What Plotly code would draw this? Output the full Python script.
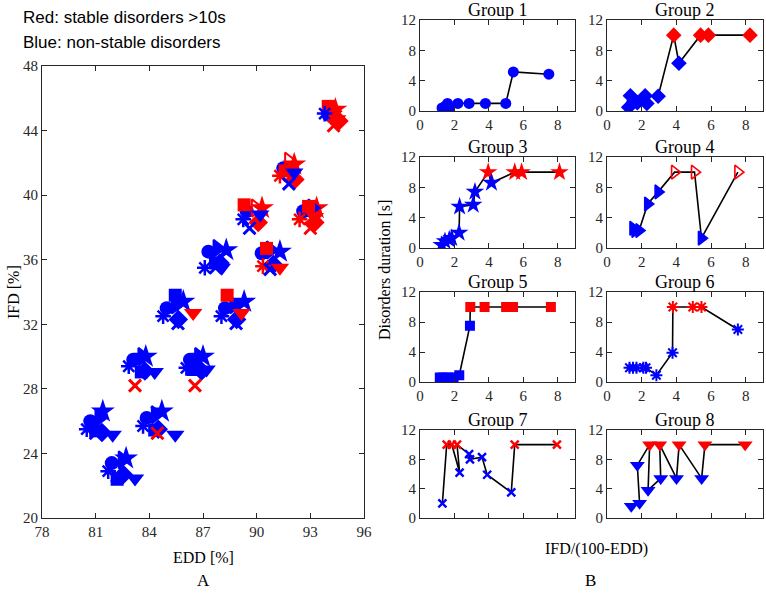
import plotly.graph_objects as go

W, H = 766, 594
RED = '#ff0000'
BLUE = '#0000ff'
AX = '#262626'
SERIF = 'Liberation Serif'

# ---------------- Left panel (A): EDD vs IFD, one point per cluster per group ----------------
g1_edd = [81.9, 80.7, 83.85, 83.1, 86.27, 84.97, 88.23, 87.3, 90.28, 89.44, 92.6, 91.49, 94.0]
g1_ifd = [23.4, 26.0, 26.2, 29.8, 29.8, 33.0, 33.0, 36.5, 36.4, 39.0, 39.0, 41.67, 45.0]
g1_stable = [0, 0, 0, 0, 0, 0, 0, 0, 0, 0, 0, 0, 0]

g2_edd = [82.55, 81.35, 84.5, 83.75, 86.92, 85.62, 88.88, 87.95, 90.93, 90.09, 93.25, 92.14, 94.6]
g2_ifd = [22.7, 25.3, 25.5, 29.1, 29.1, 32.3, 32.3, 35.8, 35.7, 38.3, 38.3, 40.97, 44.6]
g2_stable = [0, 0, 0, 0, 0, 0, 0, 0, 0, 1, 1, 1, 1]

g3_edd = [82.7, 81.4, 84.7, 83.8, 87.0, 85.9, 89.3, 88.3, 91.3, 90.3, 93.35, 92.1, 94.4]
g3_ifd = [23.7, 26.6, 26.6, 30.0, 30.0, 33.4, 33.4, 36.6, 36.5, 39.2, 39.2, 41.9, 45.3]
g3_stable = [0, 0, 0, 0, 0, 0, 0, 0, 0, 1, 1, 1, 1]

g4_edd = [82.5, 81.2, 84.35, 83.6, 86.77, 85.47, 88.73, 87.8, 90.78, 89.94, 93.1, 91.8, 94.3]
g4_ifd = [23.6, 26.2, 26.4, 30.0, 30.0, 33.2, 33.2, 36.7, 36.6, 39.2, 39.2, 42.1, 45.2]
g4_stable = [0, 0, 0, 0, 0, 0, 0, 0, 0, 1, 0, 1, 1]

g5_edd = [82.2, 81.0, 84.3, 83.55, 86.45, 85.45, 88.35, 87.7, 90.55, 89.3, 92.9, 91.6, 94.0]
g5_ifd = [22.4, 25.4, 25.45, 29.05, 29.2, 33.8, 33.8, 35.8, 36.7, 39.4, 39.3, 41.5, 45.5]
g5_stable = [0, 0, 0, 0, 0, 0, 1, 0, 1, 1, 1, 1, 1]

g6_edd = [81.7, 80.5, 83.65, 82.85, 86.07, 84.77, 88.03, 87.1, 90.35, 89.25, 92.4, 91.3, 93.8]
g6_ifd = [22.9, 25.5, 25.7, 29.4, 29.3, 32.5, 32.5, 35.5, 35.6, 38.5, 38.5, 41.2, 45.05]
g6_stable = [0, 0, 0, 0, 0, 0, 0, 0, 1, 0, 1, 1, 0]

g7_edd = [82.2, 81.0, 84.45, 83.2, 86.55, 85.6, 88.85, 87.7, 90.75, 89.6, 93.0, 91.8, 94.3]
g7_ifd = [22.6, 25.25, 25.25, 28.2, 28.2, 32.05, 32.05, 35.5, 35.4, 37.95, 37.95, 40.7, 44.3]
g7_stable = [0, 0, 1, 1, 1, 0, 0, 0, 0, 0, 1, 0, 1]

g8_edd = [83.2, 81.95, 85.45, 84.3, 87.2, 86.45, 89.15, 88.05, 91.3, 90.2, 93.25, 92.1, 94.5]
g8_ifd = [22.45, 25.15, 25.15, 29.05, 29.2, 32.7, 32.7, 35.5, 35.5, 38.8, 38.65, 41.4, 44.7]
g8_stable = [0, 0, 0, 0, 0, 1, 1, 0, 1, 0, 1, 0, 1]

# ---------------- Right panels (B): IFD/(100-EDD) vs disorder duration ----------------
g1_ratio = [1.28, 1.45, 1.6, 1.72, 2.2, 2.85, 3.8, 4.98, 5.42, 7.48]
g1_dur = [0.4, 0.6, 1.0, 0.45, 1.0, 1.0, 1.0, 1.0, 5.15, 4.85]

g2_ratio = [1.25, 1.35, 1.55, 1.75, 2.3, 2.2, 2.95, 3.85, 4.15, 5.4, 5.85, 8.25]
g2_dur = [0.5, 2.0, 1.3, 1.1, 1.0, 2.0, 1.95, 10, 6.3, 10, 10, 10]

g3_ratio = [1.26, 1.45, 1.7, 1.84, 2.27, 2.3, 3.09, 3.19, 3.96, 4.15, 5.5, 5.9, 8.1]
g3_dur = [0.4, 0.9, 1.1, 1.3, 2.0, 5.45, 5.7, 7.4, 10, 8.6, 10, 10, 10]

g4_ratio = [1.5, 1.62, 1.85, 2.35, 2.95, 3.9, 5.05, 5.45, 7.55]
g4_dur = [2.6, 2.3, 2.3, 5.8, 7.4, 10, 10, 1.3, 10]

g5_ratio = [1.15, 1.35, 1.65, 1.95, 2.28, 2.9, 2.92, 3.75, 5.0, 5.4, 7.6]
g5_dur = [0.6, 0.6, 0.6, 0.6, 0.9, 7.5, 10, 10, 10, 10, 10]

g6_ratio = [1.3, 1.5, 1.7, 2.1, 2.25, 2.85, 3.78, 3.8, 4.95, 5.45, 7.55]
g6_dur = [1.9, 1.9, 1.9, 1.9, 1.9, 0.9, 3.9, 10, 10, 10, 7.0]

g7_ratio = [1.3, 1.55, 1.85, 2.3, 2.15, 2.85, 2.9, 3.6, 3.9, 5.3, 5.5, 7.95]
g7_dur = [2.0, 10, 10, 6.2, 10, 8.7, 8.0, 8.3, 5.9, 3.5, 10, 10]

g8_ratio = [1.4, 1.88, 1.75, 2.46, 2.37, 3.1, 3.04, 4.01, 4.16, 5.46, 5.65, 7.97]
g8_dur = [1.6, 2.0, 7.2, 10, 3.8, 5.4, 10, 5.4, 10, 5.4, 10, 10]

group_names = ['Group 1', 'Group 2', 'Group 3', 'Group 4', 'Group 5', 'Group 6', 'Group 7', 'Group 8']
x_ticks_left = [78, 81, 84, 87, 90, 93, 96]
y_ticks_left = [20, 24, 28, 32, 36, 40, 44, 48]
x_ticks_right = [0, 2, 4, 6, 8]
y_ticks_right = [0, 4, 8, 12]
STABLE_LIMIT = 10

left_data = [(g1_edd, g1_ifd, g1_stable), (g2_edd, g2_ifd, g2_stable), (g3_edd, g3_ifd, g3_stable),
             (g4_edd, g4_ifd, g4_stable), (g5_edd, g5_ifd, g5_stable), (g6_edd, g6_ifd, g6_stable),
             (g7_edd, g7_ifd, g7_stable), (g8_edd, g8_ifd, g8_stable)]
right_data = [(g1_ratio, g1_dur), (g2_ratio, g2_dur), (g3_ratio, g3_dur), (g4_ratio, g4_dur),
              (g5_ratio, g5_dur), (g6_ratio, g6_dur), (g7_ratio, g7_dur), (g8_ratio, g8_dur)]

# symbol style per group: (filled symbol, open symbol for stable, left size, right size, line width)
styles = [
    ('circle', 'circle', 14, 11, 0),
    ('diamond', 'diamond', 15, 12, 0),
    ('star', 'star', 18, 14, 0),
    ('triangle-right', 'triangle-right-open', 15, 12, 2),
    ('square', 'square', 13, 10, 0),
    ('asterisk-open', 'asterisk-open', 13, 10, 2.5),
    ('x-thin-open', 'x-thin-open', 12, 8, 3),
    ('triangle-down', 'triangle-down', 16, 13, 0),
]

fig = go.Figure()

# left scatter
for (edd, ifd, st), (sym, osym, ls, rs, lw) in zip(left_data, styles):
    cols = [RED if s else BLUE for s in st]
    syms = [osym if s else sym for s in st]
    fig.add_trace(go.Scatter(
        x=edd, y=ifd, mode='markers', xaxis='x', yaxis='y', showlegend=False,
        marker=dict(symbol=syms, size=ls, color=cols,
                    line=dict(color=cols, width=lw if lw else 0))))

# right panels
for i, ((rx, ry), (sym, osym, ls, rs, lw)) in enumerate(zip(right_data, styles)):
    k = i + 2
    fig.add_trace(go.Scatter(x=rx, y=ry, mode='lines', xaxis=f'x{k}', yaxis=f'y{k}',
                             line=dict(color='black', width=1.6), showlegend=False))
    cols = [RED if v >= STABLE_LIMIT else BLUE for v in ry]
    syms = [osym if v >= STABLE_LIMIT else sym for v in ry]
    fig.add_trace(go.Scatter(
        x=rx, y=ry, mode='markers', xaxis=f'x{k}', yaxis=f'y{k}', showlegend=False,
        marker=dict(symbol=syms, size=rs, color=cols,
                    line=dict(color=cols, width=(lw * 0.8) if lw else 0))))

def ax_style(**kw):
    d = dict(showline=True, linecolor=AX, linewidth=1, mirror='ticks', ticks='inside',
             ticklen=5, tickcolor=AX, showgrid=False, zeroline=False, automargin=False,
             tickfont=dict(family=SERIF, size=15, color=AX))
    d.update(kw)
    return d

def px_x(a, b):
    return [a / W, b / W]

def px_y(top, bottom):
    return [1 - bottom / H, 1 - top / H]

layout = dict(
    width=W, height=H, margin=dict(l=0, r=0, t=0, b=0, autoexpand=False),
    paper_bgcolor='white', plot_bgcolor='white', showlegend=False,
    xaxis=ax_style(domain=px_x(42, 364), range=[78, 96], tickvals=x_ticks_left, anchor='y'),
    yaxis=ax_style(domain=px_y(66, 518), range=[20, 48], tickvals=y_ticks_left, anchor='x'),
)

cols_px = [(420, 575), (607, 763)]
rows_px = [(20, 111), (157, 248), (292, 382), (430, 518)]
annotations = []
for i in range(8):
    k = i + 2
    r, c = divmod(i, 2)
    xa, xb = cols_px[c]
    ya, yb = rows_px[r]
    layout[f'xaxis{k}'] = ax_style(domain=px_x(xa, xb), range=[0, 9], tickvals=x_ticks_right,
                                   showticklabels=(r < 3), anchor=f'y{k}')
    layout[f'yaxis{k}'] = ax_style(domain=px_y(ya, yb), range=[0, 12], tickvals=y_ticks_right,
                                   anchor=f'x{k}')
    annotations.append(dict(text=group_names[i], x=(xa + xb) / 2 / W, y=1 - (ya - 10) / H,
                            xref='paper', yref='paper', xanchor='center', yanchor='middle',
                            showarrow=False, font=dict(family=SERIF, size=18, color='black')))

def txt(t, x, y, size=16, family=SERIF, angle=0, xanchor='center', yanchor='middle'):
    return dict(text=t, x=x / W, y=1 - y / H, xref='paper', yref='paper', showarrow=False,
                xanchor=xanchor, yanchor=yanchor, textangle=angle,
                font=dict(family=family, size=size, color='black'))

annotations += [
    txt('Red: stable disorders &gt;10s', 21, 18, size=17, family='Liberation Sans', xanchor='left'),
    txt('Blue: non-stable disorders', 21, 42, size=17, family='Liberation Sans', xanchor='left'),
    txt('EDD [%]', 203, 557, size=16),
    txt('A', 203, 580, size=17),
    txt('IFD [%]', 13, 292, size=16, angle=-90),
    txt('Disorders duration [s]', 384, 270, size=16, angle=-90),
    txt('IFD/(100-EDD)', 596, 549, size=16),
    txt('B', 590, 580, size=17),
]
layout['annotations'] = annotations
fig.update_layout(**layout)
fig.write_html('out.html', config={'displayModeBar': False},
               post_script="document.body.style.margin='0';")
